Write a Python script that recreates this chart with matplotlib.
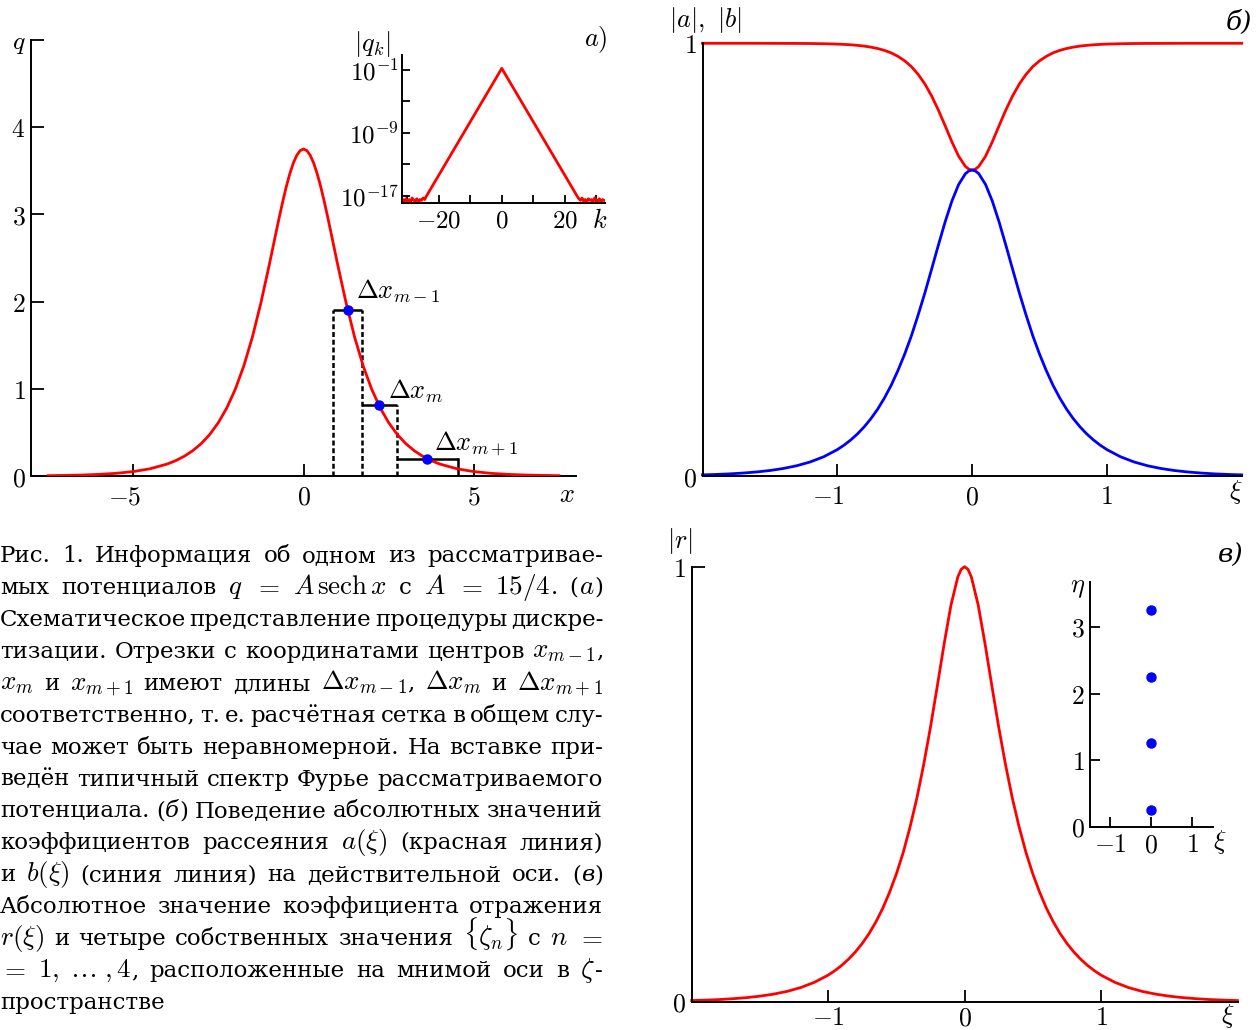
import re
import numpy as np
import matplotlib
matplotlib.use('Agg')
from matplotlib import pyplot as plt
from matplotlib.ticker import NullLocator
from matplotlib.transforms import ScaledTranslation

plt.rcParams['font.family'] = ['DejaVu Serif']
plt.rcParams['mathtext.fontset'] = 'cm'
plt.rcParams['axes.linewidth'] = 1.4

RED = '#ff0000'
BLUE = '#0000ff'

# (a) potential q = A sech x with A = 15/4, right half (the curve is even)
x_half = [0, 0.1, 0.2, 0.3, 0.4, 0.5, 0.6, 0.7, 0.8, 0.9, 1.0, 1.25, 1.5,
          1.75, 2.0, 2.25, 2.5, 2.75, 3.0, 3.25, 3.5, 3.75, 4.0, 4.5, 5.0,
          5.5, 6.0, 6.5, 7.0, 7.5]
q_half = [3.750, 3.731, 3.676, 3.587, 3.469, 3.326, 3.163, 2.988, 2.804,
          2.617, 2.430, 1.986, 1.594, 1.265, 0.997, 0.782, 0.612, 0.4775,
          0.3725, 0.2904, 0.2263, 0.1763, 0.1373, 0.0833, 0.0505, 0.0307,
          0.0186, 0.0113, 0.0068, 0.0041]

# three grid cells and the value of q at their centres
cell_edges = [0.88, 1.71, 2.74, 4.53]
cell_q = [1.90, 0.81, 0.20]
cell_names = [r'$\Delta x_{m-1}$', r'$\Delta x_m$', r'$\Delta x_{m+1}$']

# inset: Fourier spectrum, log10 |q_k|
spec_k = [-31.5, -31.0, -30.5, -30.0, -29.5, -29.0, -28.5, -28.0, -27.5,
          -27.0, -26.5, -26.0, -25.5, -25.0, -24.5, -24.0, 0.0, 24.0, 24.5,
          25.0, 25.5, 26.0, 26.5, 27.0, 27.5, 28.0, 28.5, 29.0, 29.5, 30.0,
          30.5, 31.0, 31.5, 32.0, 32.5]
spec_lg = [-17.5, -17.8, -17.4, -17.7, -17.5, -17.8, -17.3, -17.6, -17.7,
           -17.4, -17.8, -17.5, -17.6, -17.3, -17.5, -17.1, -0.8, -17.1,
           -17.4, -17.6, -17.3, -17.7, -17.5, -17.8, -17.4, -17.6, -17.5,
           -17.8, -17.3, -17.6, -17.7, -17.4, -17.8, -17.5, -17.6]

# (б), (в) scattering data on the real axis, xi >= 0
xi_half = [0, 0.025, 0.05, 0.1, 0.15, 0.2, 0.25, 0.3, 0.35, 0.4, 0.45, 0.5,
           0.55, 0.6, 0.65, 0.7, 0.75, 0.8, 0.85, 0.9, 0.95, 1.0, 1.1, 1.2,
           1.3, 1.4, 1.5, 1.6, 1.7, 1.8, 1.9, 2.0]
a_half = [0.7071, 0.7093, 0.7156, 0.7391, 0.7723, 0.8094, 0.8456, 0.8781,
          0.9058, 0.9281, 0.9460, 0.9595, 0.9698, 0.9778, 0.9836, 0.9879,
          0.9911, 0.9935, 0.9952, 0.9965, 0.9975, 0.9981, 0.9990, 0.9995,
          0.9997, 0.9998, 0.9999, 1.0, 1.0, 1.0, 1.0, 1.0]
b_half = [0.7071, 0.7049, 0.6985, 0.6736, 0.6353, 0.5873, 0.5338, 0.4784,
          0.4236, 0.3724, 0.3243, 0.2818, 0.2439, 0.2098, 0.1805, 0.1548,
          0.1328, 0.1138, 0.0974, 0.0834, 0.0713, 0.0610, 0.0446, 0.0326,
          0.0238, 0.0174, 0.0127, 0.0093, 0.0068, 0.0049, 0.0036, 0.0026]
r_half = [1.0, 0.9939, 0.9761, 0.9114, 0.8226, 0.7256, 0.6313, 0.5448,
          0.4676, 0.4013, 0.3428, 0.2937, 0.2515, 0.2146, 0.1835, 0.1567,
          0.1340, 0.1145, 0.0979, 0.0837, 0.0715, 0.0611, 0.0447, 0.0326,
          0.0238, 0.0174, 0.0127, 0.0093, 0.0068, 0.0049, 0.0036, 0.0026]

# discrete eigenvalues zeta_n = xi + i*eta
eig_xi = [0, 0, 0, 0]
eig_eta = [0.25, 1.25, 2.25, 3.25]

caption = [
    'Рис.\u00a01. Информация об одном из рассматривае-',
    r'мых потенциалов $q$ $=$ $A\,\mathrm{sech}\,x$ с $A$ $=$ $15/4$. ($a$)',
    'Схематическое представление процедуры дискре-',
    r'тизации. Отрезки с координатами центров $x_{m-1}$,',
    r'$x_m$ и $x_{m+1}$ имеют длины $\Delta x_{m-1}$, $\Delta x_m$ и $\Delta x_{m+1}$',
    'соответственно, т.\u00a0е. расчётная сетка в общем слу-',
    'чае может быть неравномерной. На вставке при-',
    'ведён типичный спектр Фурье рассматриваемого',
    'потенциала. (@б@) Поведение абсолютных значений',
    r'коэффициентов рассеяния $a(\xi)$ (красная линия)',
    r'и $b(\xi)$ (синия линия) на действительной оси. (@в@)',
    'Абсолютное значение коэффициента отражения',
    r'$r(\xi)$ и четыре собственных значения $\{\zeta_n\}$ с $n$ $=$',
    r'$=$ $1,\;\ldots\;,4$, расположенные на мнимой оси в $\zeta$-',
    'пространстве',
]


def mirror(xs, ys):
    xs = np.asarray(xs, float)
    ys = np.asarray(ys, float)
    return np.r_[-xs[:0:-1], xs], np.r_[ys[:0:-1], ys]


W, H = 1258, 1030
fig = plt.figure(figsize=(W / 100, H / 100), dpi=100)
shift_minus = ScaledTranslation(-0.085, 0, fig.dpi_scale_trans)


def px_axes(left, top, right, bottom):
    return fig.add_axes([left / W, 1 - bottom / H, (right - left) / W, (bottom - top) / H])


def ftext(xp, yp, s, **kw):
    kw.setdefault('ha', 'center')
    kw.setdefault('va', 'center')
    kw.setdefault('fontsize', 19)
    return fig.text(xp / W, 1 - yp / H, s, **kw)


def setup(ax, xticks, xlabels, yticks, ylabels, length=7, size=18.5):
    ax.spines[['top', 'right']].set_visible(False)
    ax.patch.set_alpha(0)
    ax.set_xticks(xticks, xlabels)
    ax.set_yticks(yticks, ylabels)
    ax.tick_params(direction='in', length=length, width=1.3, labelsize=size)
    ax.tick_params(axis='x', pad=6)
    ax.tick_params(axis='y', pad=4)
    for lbl in ax.get_xticklabels():
        if lbl.get_text().startswith('$-'):
            lbl.set_transform(lbl.get_transform() + shift_minus)


# ---- (a) potential and discretisation ----
ax = px_axes(31, 40, 576, 476)
xq, q = mirror(x_half, q_half)
ax.plot(xq, q, color=RED, lw=2.0, zorder=3)
e = cell_edges
for i, h in enumerate(cell_q):
    ax.plot([e[i], e[i + 1]], [h, h], color='k', lw=1.8, zorder=2, solid_capstyle='butt')
    ax.plot([(e[i] + e[i + 1]) / 2], [h], 'o', color=BLUE, ms=6.5, zorder=4)
for i, xe in enumerate(e):
    top = max(cell_q[max(i - 1, 0)], cell_q[min(i, len(cell_q) - 1)])
    ls = '-' if i == len(e) - 1 else (0, (2.0, 1.1))
    ax.plot([xe, xe], [0, top], color='k', lw=1.8, ls=ls, zorder=2)
ax.text(1.53, 2.03, cell_names[0], fontsize=19)
ax.text(2.47, 0.89, cell_names[1], fontsize=19)
ax.text(3.82, 0.30, cell_names[2], fontsize=19)
ax.set_xlim(-8, 8)
ax.set_ylim(0, 5)
setup(ax, [-5, 0, 5], ['$-5$', '$0$', '$5$'],
      [0, 1, 2, 3, 4, 5], ['$0$', '$1$', '$2$', '$3$', '$4$', '$q$'], length=9)
ftext(567, 494, '$x$')
ftext(596, 40, '$a)$')

# inset: spectrum
ins = px_axes(401.7, 55, 605, 202.7)
ins.plot(spec_k, 10 ** np.asarray(spec_lg), color=RED, lw=2.0)
ins.set_yscale('log')
ins.set_xlim(-31.8, 32.8)
ins.set_ylim(10 ** -17.9, 10 ** 0.9)
setup(ins, [-30, -20, -10, 0, 10, 20, 30], ['', '$-20$', '', '$0$', '', '$20$', ''],
      [1e-1, 1e-5, 1e-9, 1e-13, 1e-17],
      ['$10^{-1}$', '', '$10^{-9}$', '', '$10^{-17}$'], length=6, size=18)
ins.yaxis.set_minor_locator(NullLocator())
ins.tick_params(axis='y', pad=2)
ins.tick_params(axis='x', pad=5)
ftext(372, 44, '$|q_k|$')
ftext(600, 221, '$k$')

# ---- (б) |a| and |b| ----
axb = px_axes(702.5, 43.3, 1241.7, 476)
xi, a = mirror(xi_half, a_half)
axb.plot(xi, a, color=RED, lw=2.0, clip_on=False)
xi, b = mirror(xi_half, b_half)
axb.plot(xi, b, color=BLUE, lw=2.0, clip_on=False)
axb.set_xlim(-2, 2)
axb.set_ylim(0, 1)
setup(axb, [-1, 0, 1], ['$-1$', '$0$', '$1$'], [0, 1], ['$0$', '$1$'], length=9)
ftext(705, 20, r'$|a|,\ |b|$')
ftext(1239, 22, 'б)', style='italic')
ftext(1236, 492, r'$\xi$')

# ---- (в) |r| and eigenvalues ----
axc = px_axes(691.7, 566.7, 1237.5, 1001.7)
xi, r = mirror(xi_half, r_half)
axc.plot(xi, r, color=RED, lw=2.0, clip_on=False)
axc.set_xlim(-2, 2)
axc.set_ylim(0, 1)
setup(axc, [-1, 0, 1], ['$-1$', '$0$', '$1$'], [0, 1], ['$0$', '$1$'], length=9)
axc.tick_params(axis='x', pad=2.5)
ftext(680, 541, '$|r|$')
ftext(1231, 555, 'в)', style='italic')
ftext(1228, 1016, r'$\xi$')

inc = px_axes(1090, 581.7, 1212.7, 826.7)
inc.plot(eig_xi, eig_eta, 'o', color=BLUE, ms=6.5)
inc.set_xlim(-1.5, 1.5)
inc.set_ylim(0, 3.68)
setup(inc, [-1, 0, 1], ['$-1$', '$0$', '$1$'], [0, 1, 2, 3], ['$0$', '$1$', '$2$', '$3$'],
      length=7)
inc.tick_params(axis='x', pad=4)
ftext(1078, 588, r'$\eta$')
ftext(1220, 842, r'$\xi$')

# ---- caption, justified to the column width ----
CAP_FS = 16.5
MATH_FS = 19.5
CAP_W = 603
renderer = fig.canvas.get_renderer()


def word_pieces(word):
    # split a word into (text, fontsize, style) runs: math, upright, italic
    out = []
    for seg in re.split(r'(\$[^$]*\$)', word):
        if not seg:
            continue
        if seg.startswith('$'):
            out.append((seg, MATH_FS, 'normal'))
            continue
        for j, p in enumerate(seg.split('@')):
            if p:
                out.append((p, CAP_FS, 'italic' if j % 2 else 'normal'))
    return out


for n, line in enumerate(caption):
    yb = 1 - (562 + 31.93 * n) / H
    words = re.findall(r'(?:\$[^$]*\$|[^\s$])+', line)
    groups = []
    for w in words:
        groups.append([fig.text(0, yb, s, fontsize=fs, style=st, va='baseline')
                       for s, fs, st in word_pieces(w)])
    widths = [[t.get_window_extent(renderer).width for t in arts] for arts in groups]
    total = sum(sum(ws) for ws in widths)
    last = n == len(caption) - 1
    gap = 6.0 if last or len(groups) < 2 else (CAP_W - total) / (len(groups) - 1)
    xp = 0.0
    for arts, ws in zip(groups, widths):
        for t, w in zip(arts, ws):
            t.set_x(xp / W)
            xp += w
        xp += gap

fig.savefig('out.png', dpi=100)
